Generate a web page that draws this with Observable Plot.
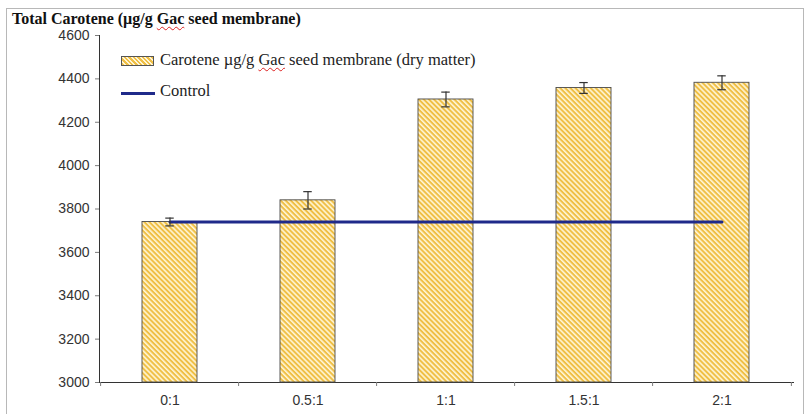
<!DOCTYPE html>
<html>
<head>
<meta charset="utf-8">
<script src="https://cdn.jsdelivr.net/npm/d3@7"></script>
<script src="https://cdn.jsdelivr.net/npm/@observablehq/plot@0.6"></script>
<style>
  html, body { margin: 0; padding: 0; background: #fff; }
  #wrap { position: relative; width: 810px; height: 414px; overflow: hidden; background: #fff; }
  #frame { position: absolute; left: 6px; top: 8px; width: 798px; height: 440px; border: 1px solid #b8b8b8; box-sizing: border-box; }
  #title { position: absolute; left: 12px; top: 11px; font: bold 16px "Liberation Serif", "Times New Roman", serif; color: #111; line-height: 16px; white-space: nowrap; }
  .gac { text-decoration: underline wavy #d22; text-decoration-thickness: 1px; text-underline-offset: 2px; }
  .leg { position: absolute; font: 16.5px "Liberation Serif", "Times New Roman", serif; color: #222; line-height: 16.5px; white-space: nowrap; }
  #sw1 { position: absolute; left: 121px; top: 56px; width: 33px; height: 10px; border: 1px solid #555; box-sizing: border-box;
         background: repeating-linear-gradient(45deg, #efbf45 0px, #efbf45 1.8px, #fff5d6 1.8px, #fff5d6 3.2px); }
  #sw2 { position: absolute; left: 121px; top: 92px; width: 34px; height: 3px; background: #1f2a8a; }
  #chart { position: absolute; left: 0; top: 0; }
  #chart svg [aria-label$="axis tick"], #chart svg [aria-label$="axis line"] { color: #7d7d7d; }
</style>
</head>
<body>
<div id="wrap">
  <div id="frame"></div>
  <div id="chart"></div>
  <div id="title">Total Carotene (µg/g <span class="gac">Gac</span> seed membrane)</div>
  <div id="sw1"></div>
  <div class="leg" style="left:160px; top:52px;">Carotene µg/g <span class="gac">Gac</span> seed membrane (dry matter)</div>
  <div id="sw2"></div>
  <div class="leg" style="left:160px; top:83px;">Control</div>
</div>
<script>
const categories = ["0:1", "0.5:1", "1:1", "1.5:1", "2:1"];
const carotene = [3740, 3840, 4305, 4358, 4382];
const errors = [18, 40, 34, 25, 32];
const controlValue = 3740;
const yTicks = [3000, 3200, 3400, 3600, 3800, 4000, 4200, 4400, 4600];

const data = categories.map((c, i) => ({cat: c, value: carotene[i], err: errors[i]}));

const W = 810, H = 414, mL = 99, mR = 17, mT = 35, mB = 32;
const step = (W - mL - mR) / categories.length;
const yPerPx = (yTicks[yTicks.length - 1] - yTicks[0]) / (H - mT - mB);
const tickLen = 4 * yPerPx;
const capInset = (step * 0.4 - 9) / 2;

const chart = Plot.plot({
  width: W, height: H,
  marginTop: mT, marginBottom: mB, marginLeft: mL, marginRight: mR,
  style: {fontFamily: "'Liberation Sans', Arial, sans-serif", fontSize: "14px", color: "#333", background: "transparent", overflow: "visible"},
  x: {domain: categories, paddingInner: 0.6, paddingOuter: 0.3, label: null, tickSize: 0, tickPadding: 13, line: true},
  y: {domain: [yTicks[0], yTicks[yTicks.length - 1]], ticks: yTicks, tickFormat: d3.format("d"), tickSize: 4, tickPadding: 6, label: null, line: true},
  marks: [
    Plot.barY(data, {x: "cat", y1: yTicks[0], y2: "value", fill: "url(#hatch)", stroke: "#4a4a4a", strokeWidth: 0.9}),
    Plot.ruleX(categories, {x: d => d, y1: yTicks[0], y2: yTicks[0] - tickLen, dx: -step / 2, stroke: "#7d7d7d"}),
    Plot.ruleX(categories.slice(-1), {x: d => d, y1: yTicks[0], y2: yTicks[0] - tickLen, dx: step / 2, stroke: "#7d7d7d"}),
    Plot.line(categories, {x: d => d, y: () => controlValue, stroke: "#1f2a8a", strokeWidth: 3}),
    Plot.ruleX(data, {x: "cat", y1: d => d.value - d.err, y2: d => d.value + d.err, stroke: "#333", strokeWidth: 1.2}),
    Plot.tickY(data, {x: "cat", y: d => d.value - d.err, insetLeft: capInset, insetRight: capInset, stroke: "#333", strokeWidth: 1.2}),
    Plot.tickY(data, {x: "cat", y: d => d.value + d.err, insetLeft: capInset, insetRight: capInset, stroke: "#333", strokeWidth: 1.2})
  ]
});

d3.select(chart).insert("defs", ":first-child").html(
  '<pattern id="hatch" patternUnits="userSpaceOnUse" width="3.6" height="3.6" patternTransform="rotate(45)">' +
  '<rect width="3.6" height="3.6" fill="#fff5d6"></rect>' +
  '<rect width="3.6" height="2" fill="#efbf45"></rect>' +
  '</pattern>'
);

document.getElementById("chart").appendChild(chart);
</script>
</body>
</html>
